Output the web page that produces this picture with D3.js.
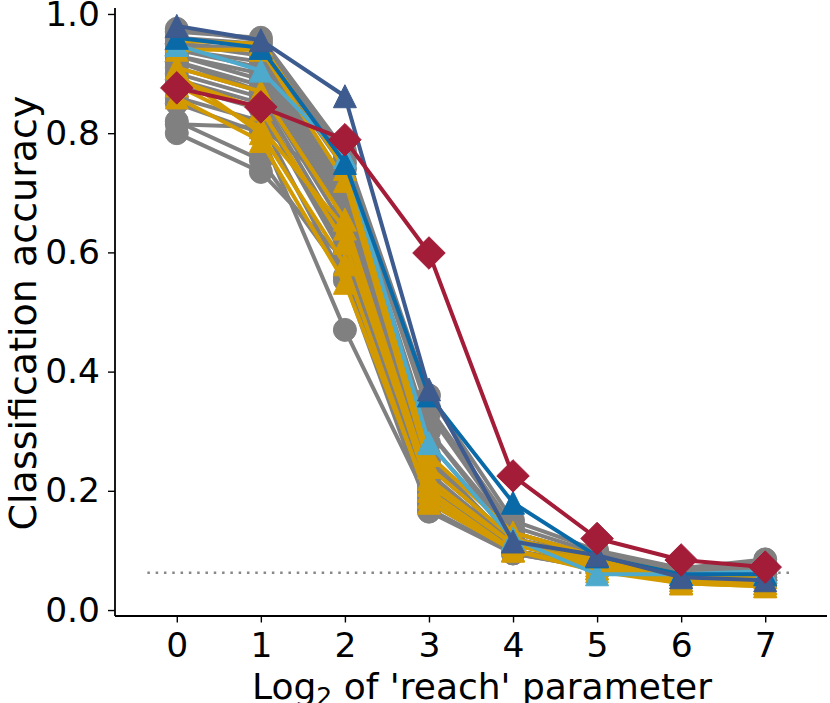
<!DOCTYPE html>
<html>
<head>
<meta charset="utf-8">
<script src="https://cdn.jsdelivr.net/npm/d3@7"></script>
<style>
  body { margin: 0; background: #fff; }
  text { font-family: "DejaVu Sans", sans-serif; }
</style>
</head>
<body>
<svg width="830" height="703"></svg>
<script>
// log2 of reach parameter
var reach = [0, 1, 2, 3, 4, 5, 6, 7];
var yTicks = [0.0, 0.2, 0.4, 0.6, 0.8, 1.0];
var chance = 1 / 16;

// grey circles
var greySeries = [
    [0.975, 0.955, 0.76, 0.34, 0.14, 0.095, 0.07, 0.075],
    [0.97, 0.96, 0.77, 0.36, 0.15, 0.10, 0.07, 0.085],
    [0.96, 0.95, 0.75, 0.33, 0.13, 0.09, 0.065, 0.07],
    [0.95, 0.94, 0.74, 0.30, 0.12, 0.09, 0.06, 0.06],
    [0.95, 0.93, 0.72, 0.28, 0.12, 0.08, 0.06, 0.06],
    [0.94, 0.92, 0.71, 0.26, 0.11, 0.08, 0.06, 0.055],
    [0.94, 0.91, 0.70, 0.25, 0.11, 0.08, 0.055, 0.05],
    [0.93, 0.90, 0.69, 0.24, 0.12, 0.085, 0.06, 0.06],
    [0.93, 0.89, 0.68, 0.23, 0.11, 0.08, 0.055, 0.055],
    [0.92, 0.88, 0.67, 0.22, 0.10, 0.075, 0.05, 0.05],
    [0.92, 0.87, 0.66, 0.21, 0.10, 0.07, 0.05, 0.05],
    [0.91, 0.87, 0.64, 0.20, 0.10, 0.075, 0.055, 0.05],
    [0.90, 0.86, 0.62, 0.19, 0.10, 0.07, 0.05, 0.045],
    [0.89, 0.85, 0.60, 0.18, 0.10, 0.07, 0.05, 0.05],
    [0.88, 0.84, 0.59, 0.17, 0.095, 0.07, 0.05, 0.045],
    [0.86, 0.82, 0.553, 0.165, 0.095, 0.07, 0.05, 0.045],
    [0.85, 0.80, 0.47, 0.18, 0.10, 0.075, 0.055, 0.05],
    [0.82, 0.755, 0.56, 0.20, 0.11, 0.08, 0.06, 0.06],
    [0.80, 0.735, 0.587, 0.22, 0.12, 0.085, 0.065, 0.07],
    [0.815, 0.81, 0.70, 0.30, 0.13, 0.09, 0.07, 0.08]
];

// gold triangles
var goldSeries = [
    [0.955, 0.95, 0.74, 0.26, 0.13, 0.09, 0.06, 0.06],
    [0.94, 0.94, 0.72, 0.24, 0.12, 0.085, 0.055, 0.055],
    [0.91, 0.87, 0.655, 0.22, 0.11, 0.08, 0.05, 0.045],
    [0.89, 0.84, 0.616, 0.21, 0.11, 0.075, 0.05, 0.045],
    [0.88, 0.81, 0.64, 0.20, 0.10, 0.07, 0.045, 0.04],
    [0.86, 0.787, 0.549, 0.19, 0.10, 0.07, 0.045, 0.04],
    [0.90, 0.80, 0.58, 0.18, 0.10, 0.065, 0.045, 0.045]
];

var lightBlue = [0.948, 0.905, 0.76, 0.28, 0.12, 0.06, 0.06, 0.065];
var blue      = [0.96, 0.943, 0.75, 0.36, 0.18, 0.09, 0.06, 0.06];
var darkBlue  = [0.98, 0.956, 0.862, 0.37, 0.115, 0.092, 0.055, 0.05];
var red       = [0.876, 0.844, 0.789, 0.599, 0.225, 0.12, 0.084, 0.072];

var svg = d3.select("svg"),
    margin = { left: 115, right: 3, top: 8, bottom: 87 },
    width = 830 - margin.left - margin.right,
    height = 703 - margin.top - margin.bottom;

var x = d3.scaleLinear().domain([-0.735, 7.735]).range([0, width]);
var y = d3.scaleLinear().domain([-0.01, 1.01]).range([height, 0]);

var g = svg.append("g")
    .attr("transform", "translate(" + margin.left + "," + margin.top + ")");

// matplotlib-like marker shapes, size = marker size in px
var tri = { draw: function(ctx, s) {
    var h = s / 2;
    ctx.moveTo(0, -h); ctx.lineTo(-h, h); ctx.lineTo(h, h); ctx.closePath();
}};
var diamond = { draw: function(ctx, s) {
    var h = s * Math.SQRT2 / 2;
    ctx.moveTo(0, -h); ctx.lineTo(h, 0); ctx.lineTo(0, h); ctx.lineTo(-h, 0); ctx.closePath();
}};
var circle = { draw: function(ctx, s) {
    var r = s / 2;
    ctx.moveTo(r, 0); ctx.arc(0, 0, r, 0, 2 * Math.PI);
}};

// chance line
g.append("line")
    .attr("x1", x(-0.35)).attr("x2", x(7.35))
    .attr("y1", y(chance)).attr("y2", y(chance))
    .attr("stroke", "#888").attr("stroke-width", 2.5)
    .attr("stroke-dasharray", "2.5,5.8");

var line = d3.line()
    .x(function(d, i) { return x(reach[i]); })
    .y(function(d) { return y(d); });

function drawSeries(vals, color, shape) {
    var s = g.append("g");
    s.append("path")
        .attr("d", line(vals))
        .attr("fill", "none")
        .attr("stroke", color)
        .attr("stroke-width", 4)
        .attr("stroke-linejoin", "round");
    s.selectAll("path.m")
        .data(vals)
        .enter().append("path")
        .attr("class", "m")
        .attr("transform", function(d, i) { return "translate(" + x(reach[i]) + "," + y(d) + ")"; })
        .attr("d", d3.symbol().type(shape).size(23))
        .attr("fill", color)
        .attr("stroke", color)
        .attr("stroke-width", 1);
}

greySeries.forEach(function(v) { drawSeries(v, "#808080", circle); });
goldSeries.forEach(function(v) { drawSeries(v, "#d29a00", tri); });
drawSeries(lightBlue, "#4eaacc", tri);
drawSeries(blue, "#0a6aa8", tri);
drawSeries(darkBlue, "#3d5b8f", tri);
drawSeries(red, "#a31c38", diamond);

// axes
var xAxis = g.append("g")
    .attr("transform", "translate(0," + height + ")")
    .call(d3.axisBottom(x).tickValues(reach).tickFormat(d3.format("d")).tickSize(6.5).tickPadding(10));
var yAxis = g.append("g")
    .call(d3.axisLeft(y).tickValues(yTicks).tickFormat(d3.format(".1f")).tickSize(7).tickPadding(8));

[xAxis, yAxis].forEach(function(a) {
    a.select(".domain").attr("stroke", "#000").attr("stroke-width", 1.8);
    a.selectAll(".tick line").attr("stroke", "#000").attr("stroke-width", 1.4);
    a.selectAll(".tick text")
        .attr("fill", "#000")
        .style("font-family", "'DejaVu Sans', sans-serif")
        .style("font-size", "34.5px");
});
xAxis.select(".domain").attr("d", "M0,0H" + width);
yAxis.select(".domain").attr("d", "M0,0V" + height);

// axis labels
svg.append("text")
    .attr("transform", "translate(36,313) rotate(-90)")
    .attr("text-anchor", "middle")
    .style("font-size", "38px")
    .text("Classification accuracy");

var xl = svg.append("text")
    .attr("x", 482)
    .attr("y", 699)
    .attr("text-anchor", "middle")
    .style("font-size", "36px");
xl.append("tspan").text("Log");
xl.append("tspan").attr("dy", 6).style("font-size", "25px").text("2");
xl.append("tspan").attr("dy", -6).text(" of 'reach' parameter");
</script>
</body>
</html>
